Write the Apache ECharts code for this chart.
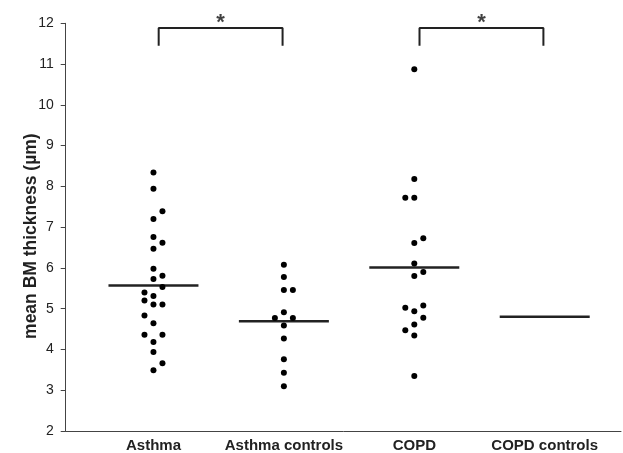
<!DOCTYPE html>
<html>
<head>
<meta charset="utf-8">
<script src="https://cdn.jsdelivr.net/npm/echarts@6/dist/echarts.min.js"></script>
<style>
html,body{margin:0;padding:0;background:#fff;}
#chart{width:623px;height:453px;}
</style>
</head>
<body>
<div id="chart"></div>
<script>
// Categories (x axis)
var categories = ['Asthma', 'Asthma controls', 'COPD', 'COPD controls'];
// y axis ticks
var yMin = 2, yMax = 12, yStep = 1;

// Individual values per group (µm)
var asthmaValues   = [8.34, 7.94, 7.39, 7.20, 6.76, 6.62, 6.47, 5.98, 5.81, 5.73, 5.53, 5.40, 5.31, 5.20, 5.10, 5.10, 4.83, 4.64, 4.36, 4.36, 4.18, 3.94, 3.66, 3.49];
var asthmaColumn   = [0, 0, 1, 0, 0, 1, 0, 0, 1, 0, 1, -1, 0, -1, 0, 1, -1, 0, -1, 1, 0, 0, 1, 0];
var asthmaCtrlValues = [6.08, 5.78, 5.46, 5.46, 4.91, 4.77, 4.77, 4.59, 4.27, 3.76, 3.43, 3.10];
var asthmaCtrlColumn = [0, 0, 0, 1, 0, -1, 1, 0, 0, 0, 0, 0];
var copdValues     = [10.87, 8.18, 7.72, 7.72, 6.73, 6.61, 6.11, 5.90, 5.80, 5.08, 5.02, 4.94, 4.78, 4.61, 4.47, 4.34, 3.35];
var copdColumn     = [0, 0, -1, 0, 1, 0, 0, 1, 0, 1, -1, 0, 1, 0, -1, 0, 0];
var copdCtrlValues = [];
var copdCtrlColumn = [];

// Group medians (horizontal bars)
var medians = [5.57, 4.69, 6.01, 4.80];

// Significance comparisons: [from group, to group, label]
var comparisons = [[0, 1, '*'], [2, 3, '*']];

var groupValues = [asthmaValues, asthmaCtrlValues, copdValues, copdCtrlValues];
var groupColumns = [asthmaColumn, asthmaCtrlColumn, copdColumn, copdCtrlColumn];

var jitter = 0.069, halfWidth = 0.345;
var bracketTop = 11.885, bracketBottom = 11.45, starY = 12.0;

var series = [];
groupValues.forEach(function (vals, g) {
  series.push({
    type: 'scatter',
    symbol: 'circle',
    symbolSize: 6,
    itemStyle: { color: '#000', opacity: 1 },
    data: vals.map(function (v, i) { return [g + groupColumns[g][i] * jitter, v]; }),
    z: 3
  });
  series.push({
    type: 'line',
    symbol: 'none',
    lineStyle: { color: '#222', width: 2.5 },
    data: [[g - halfWidth, medians[g]], [g + halfWidth, medians[g]]],
    z: 2
  });
});
comparisons.forEach(function (c) {
  var a = c[0] + 0.04, b = c[1] - 0.01;
  series.push({
    type: 'line',
    symbol: 'none',
    clip: false,
    lineStyle: { color: '#222', width: 2 },
    data: [[a, bracketBottom], [a, bracketTop], [b, bracketTop], [b, bracketBottom]]
  });
  series.push({
    type: 'scatter',
    symbolSize: 0,
    clip: false,
    label: { show: true, formatter: c[2], position: 'inside', color: '#111', fontSize: 22, fontWeight: 'bold', fontFamily: 'Liberation Sans, Arial, sans-serif' },
    data: [[(a + b) / 2, starY]]
  });
});

var chart = echarts.init(document.getElementById('chart'), null, { renderer: 'canvas' });
chart.setOption({
  animation: false,
  backgroundColor: '#fff',
  grid: { left: 65.7, right: 2, top: 23.3, bottom: 21.3, containLabel: false },
  xAxis: {
    type: 'value',
    min: -0.673,
    max: 3.585,
    splitLine: { show: false },
    axisTick: { show: false },
    axisLine: { show: true, onZero: false, lineStyle: { color: '#444', width: 1 } },
    axisLabel: {
      customValues: [0, 1, 2, 3],
      formatter: function (v) { return categories[Math.round(v)]; },
      color: '#222',
      fontSize: 15,
      fontWeight: 'bold',
      fontFamily: 'Liberation Sans, Arial, sans-serif',
      margin: 7
    }
  },
  yAxis: {
    type: 'value',
    min: yMin,
    max: yMax,
    interval: yStep,
    splitLine: { show: false },
    axisLine: { show: true, onZero: false, lineStyle: { color: '#444', width: 1 } },
    axisTick: { show: true, length: 5, lineStyle: { color: '#444' } },
    axisLabel: { color: '#222', fontSize: 14, margin: 12, fontFamily: 'Liberation Sans, Arial, sans-serif' },
    name: 'mean BM thickness (µm)',
    nameLocation: 'middle',
    nameGap: 26,
    nameMoveOverlap: false,
    nameTextStyle: { color: '#222', fontSize: 17.5, fontWeight: 'bold', fontFamily: 'Liberation Sans, Arial, sans-serif', padding: [0, 18, 0, 0] }
  },
  series: series
});
</script>
</body>
</html>
